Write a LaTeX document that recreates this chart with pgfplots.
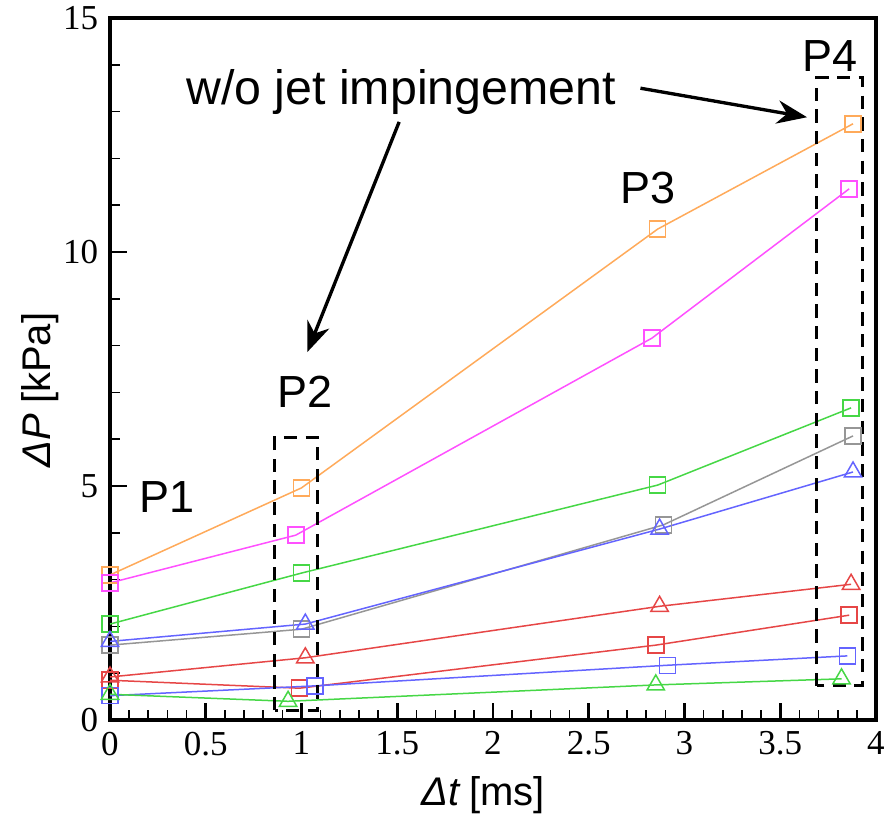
\documentclass[border=0pt]{standalone}
\usepackage{fontspec}
\setmainfont{Liberation Serif}
\newfontfamily\arial{Liberation Sans}
\usepackage{pgfplots}
\pgfplotsset{compat=1.18}
\usetikzlibrary{arrows.meta}

\definecolor{cOrange}{RGB}{255,170,90}
\definecolor{cMag}{RGB}{255,80,255}
\definecolor{cGreen}{RGB}{70,215,70}
\definecolor{cGray}{RGB}{150,150,150}
\definecolor{cBlue}{RGB}{100,100,255}
\definecolor{cRed}{RGB}{230,70,70}

\tikzset{
  sq/.style={color=#1, line width=0.45pt, mark=square, mark size=2.4pt, mark options={solid}},
  tri/.style={color=#1, line width=0.45pt, mark=triangle, mark size=3pt, mark options={solid}},
  box/.style={draw=black, line width=0.9pt, dash pattern=on 4pt off 2.5pt},
  arr/.style={-{Stealth[length=9pt,width=7pt]}, line width=1pt},
  plab/.style={font=\arial\fontsize{13.5}{15}\selectfont, inner sep=0pt},
}

\begin{document}
\begin{tikzpicture}
\begin{axis}[
  scale only axis,
  width=229.8pt, height=210.6pt,
  xmin=0, xmax=4, ymin=0, ymax=15,
  xtick={0,0.5,...,4}, minor x tick num=4,
  ytick={0,5,10,15}, minor y tick num=4,
  tick align=inside, tick pos=left,
  major tick length=5pt, minor tick length=3pt,
  axis line style={line width=1pt},
  every tick/.style={black, line width=0.8pt},
  minor tick style={line width=0.5pt},
  tick label style={font=\fontsize{10.5}{12}\selectfont},
  /pgf/number format/assume math mode=true,
  xticklabel style={/pgf/number format/fixed},
  xlabel={{\arial\itshape Δt} {\arial [ms]}},
  ylabel={{\arial\itshape ΔP} {\arial [kPa]}},
  label style={font=\fontsize{12}{14}\selectfont},
  xlabel style={at={(axis description cs:0.487,-0.107)}, anchor=center},
  ylabel style={at={(axis description cs:-0.0914,0.47)}, anchor=center},
  clip=false,
]
\addplot[sq=cOrange] coordinates {(0,3.1) (1.0,4.96) (2.86,10.49) (3.88,12.74)};
\addplot[sq=cMag] coordinates {(0,2.93) (0.97,3.95) (2.83,8.16) (3.86,11.35)};
\addplot[sq=cGreen] coordinates {(0,2.05) (1.0,3.14) (2.86,5.02) (3.87,6.67)};
\addplot[sq=cGray] coordinates {(0,1.6) (1.0,1.94) (2.89,4.17) (3.88,6.07)};
\addplot[tri=cBlue] coordinates {(0,1.68) (1.02,2.05) (2.87,4.08) (3.88,5.3)};
\addplot[tri=cRed] coordinates {(0,0.92) (1.02,1.33) (2.87,2.43) (3.87,2.9)};
\addplot[sq=cRed] coordinates {(0,0.85) (0.99,0.68) (2.85,1.6) (3.86,2.24)};
\addplot[sq=cBlue] coordinates {(0,0.52) (1.07,0.73) (2.91,1.17) (3.85,1.37)};
\addplot[tri=cGreen] coordinates {(0,0.55) (0.93,0.4) (2.85,0.75) (3.82,0.88)};

% dashed boxes
\draw[box] (axis cs:0.86,0.21) rectangle (axis cs:1.086,6.03);
\draw[box] (axis cs:3.69,0.73) rectangle (axis cs:3.93,13.72);

% annotations
\node[font=\arial\fontsize{14.5}{16}\selectfont] at (axis cs:1.52,13.42) {w/o jet impingement};
\node[plab] at (axis cs:0.30,4.77) {P1};
\node[plab] at (axis cs:1.02,7.01) {P2};
\node[plab] at (axis cs:2.81,11.37) {P3};
\node[plab] at (axis cs:3.76,14.19) {P4};
\draw[arr] (axis cs:1.51,12.78) -- (axis cs:1.03,7.86);
\draw[arr] (axis cs:2.77,13.5) -- (axis cs:3.64,12.88);
\end{axis}
\pgfresetboundingbox
\path (-33pt,-28.8pt) rectangle (234.9pt,216pt);
\end{tikzpicture}
\end{document}
